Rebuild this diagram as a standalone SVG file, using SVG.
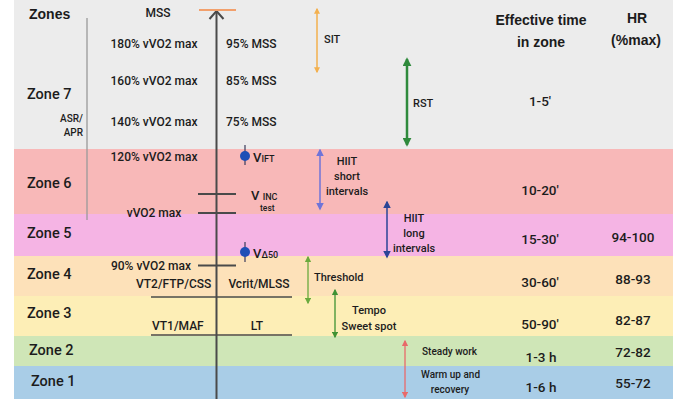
<svg xmlns="http://www.w3.org/2000/svg" width="690" height="410" viewBox="0 0 690 410">
<defs>
<style>
text{font-family:Roboto,"Liberation Sans",sans-serif;fill:#1c1c1c;font-weight:500}
.hd{font-family:"Liberation Sans",Roboto,sans-serif;font-weight:700;font-size:14px}
.zn{font-size:14.5px}
.v{font-size:12px}
.lab{font-size:11px}
.sm{font-size:10px}
.num{font-size:13.5px;text-anchor:middle}
.c{text-anchor:middle}
.tick{stroke:#4a4a4a;stroke-width:2}
.thin{stroke:#4a4a4a;stroke-width:1.5}
</style>
<marker id="mOr" viewBox="0 0 10 10" refX="8" refY="5" markerWidth="4" markerHeight="4" orient="auto-start-reverse"><path d="M0,0L10,5L0,10z" fill="#f3b04e"/></marker>
<marker id="mGr" viewBox="0 0 10 10" refX="8" refY="5" markerWidth="3.6" markerHeight="3.6" orient="auto-start-reverse"><path d="M0,0L10,5L0,10z" fill="#2f8a3c"/></marker>
<marker id="mBl" viewBox="0 0 10 10" refX="8" refY="5" markerWidth="5" markerHeight="5" orient="auto-start-reverse"><path d="M0,0L10,5L0,10z" fill="#6f74d8"/></marker>
<marker id="mDb" viewBox="0 0 10 10" refX="8" refY="5" markerWidth="5" markerHeight="5" orient="auto-start-reverse"><path d="M0,0L10,5L0,10z" fill="#2b4596"/></marker>
<marker id="mLg" viewBox="0 0 10 10" refX="8" refY="5" markerWidth="5" markerHeight="5" orient="auto-start-reverse"><path d="M0,0L10,5L0,10z" fill="#6aaa3e"/></marker>
<marker id="mTg" viewBox="0 0 10 10" refX="8" refY="5" markerWidth="5" markerHeight="5" orient="auto-start-reverse"><path d="M0,0L10,5L0,10z" fill="#3f9234"/></marker>
<marker id="mRd" viewBox="0 0 10 10" refX="8" refY="5" markerWidth="5" markerHeight="5" orient="auto-start-reverse"><path d="M0,0L10,5L0,10z" fill="#e86a6a"/></marker>
</defs>
<rect width="690" height="410" fill="#ffffff"/>
<g id="bands">
<rect x="14" y="0" width="659" height="149" fill="#ececec"/>
<rect x="14" y="149" width="659" height="65" fill="#f8b8b8"/>
<rect x="14" y="214" width="659" height="42" fill="#f5b4e4"/>
<rect x="14" y="256" width="659" height="40" fill="#fde1b9"/>
<rect x="14" y="296" width="659" height="40" fill="#fdeeb6"/>
<rect x="14" y="336" width="659" height="30" fill="#cfe6b7"/>
<rect x="14" y="366" width="659" height="33" fill="#a9cde7"/>
</g>
<g id="headers">
<text class="hd" x="29" y="19">Zones</text>
<text class="hd c" x="541" y="25">Effective time</text>
<text class="hd c" x="541" y="47">in zone</text>
<text class="hd c" x="637" y="23">HR</text>
<text class="hd c" x="636" y="45">(%max)</text>
</g>
<g id="zone7">
<text class="zn" x="27" y="99">Zone 7</text>
<text class="sm" x="83" y="122" text-anchor="end">ASR/</text>
<text class="sm" x="83" y="136" text-anchor="end">APR</text>
<text class="v c" x="158" y="17" font-size="11">MSS</text>
<text class="v c" x="154" y="48">180% vVO2 max</text>
<text class="v c" x="154" y="85">160% vVO2 max</text>
<text class="v c" x="154" y="126">140% vVO2 max</text>
<text class="v" x="226" y="48">95% MSS</text>
<text class="v" x="226" y="85">85% MSS</text>
<text class="v" x="226" y="126">75% MSS</text>
<text class="num" x="540" y="106">1-5'</text>
</g>
<g id="zone6">
<text class="zn" x="27" y="188">Zone 6</text>
<text class="v c" x="154" y="161">120% vVO2 max</text>
<text class="v c" x="154" y="217">vVO2 max</text>
<text class="num" x="540" y="195">10-20'</text>
</g>
<g id="zone5">
<text class="zn" x="27" y="238">Zone 5</text>
<text class="num" x="540" y="244">15-30'</text>
<text class="num" x="633" y="242">94-100</text>
</g>
<g id="zone4">
<text class="zn" x="27" y="279">Zone 4</text>
<text class="v c" x="151" y="270">90% vVO2 max</text>
<text class="v" x="136" y="288">VT2/FTP/CSS</text>
<text class="v c" x="259" y="288">Vcrit/MLSS</text>
<text class="num" x="540" y="287">30-60'</text>
<text class="num" x="633" y="284">88-93</text>
</g>
<g id="zone3">
<text class="zn" x="27" y="318">Zone 3</text>
<text class="v" x="152" y="330">VT1/MAF</text>
<text class="v c" x="257" y="330">LT</text>
<text class="num" x="540" y="329">50-90'</text>
<text class="num" x="633" y="325">82-87</text>
</g>
<g id="zone2">
<text class="zn" x="29" y="355">Zone 2</text>
<text class="num" x="541" y="362">1-3 h</text>
<text class="num" x="633" y="357">72-82</text>
</g>
<g id="zone1">
<text class="zn" x="31" y="386">Zone 1</text>
<text class="num" x="541" y="392">1-6 h</text>
<text class="num" x="633" y="388">55-72</text>
</g>
<g id="velocities">
<line x1="245" y1="145" x2="245" y2="165" stroke="#3a3a5a" stroke-width="1.2"/>
<circle cx="245" cy="156" r="5" fill="#1f4fb6"/>
<text x="253" y="162" font-size="13" font-weight="700">V<tspan font-size="9" dy="0">IFT</tspan></text>
<text x="251" y="200" font-size="13" font-weight="700">V <tspan font-size="9">INC</tspan></text>
<text x="260" y="211" font-size="8.5" font-weight="700">test</text>
<line x1="245" y1="242" x2="245" y2="262" stroke="#3a3a5a" stroke-width="1.2"/>
<circle cx="245" cy="252" r="5" fill="#1f4fb6"/>
<text x="253" y="258" font-size="13" font-weight="700">V<tspan font-size="9">Δ50</tspan></text>
</g>
<g id="connectors">
<line x1="87" y1="18" x2="87" y2="220" stroke="#9a9a9a" stroke-width="1.3"/>
<line x1="216.5" y1="11" x2="216.5" y2="399" stroke="#4a4a4a" stroke-width="2"/>
<polyline points="209.5,19 216.5,11 223.5,19" fill="none" stroke="#4a4a4a" stroke-width="2"/>
<line x1="199" y1="10" x2="236" y2="10" stroke="#f2a06c" stroke-width="2.2"/>
<line class="tick" x1="198" y1="194" x2="236" y2="194"/>
<line class="tick" x1="198" y1="213" x2="236" y2="213"/>
<line class="tick" x1="198" y1="265.5" x2="236" y2="265.5"/>
<line class="thin" x1="151" y1="297" x2="292" y2="297"/>
<line class="thin" x1="151" y1="335" x2="292" y2="335"/>
<line x1="317" y1="9" x2="317" y2="72" stroke="#f3b04e" stroke-width="1.5" marker-start="url(#mOr)" marker-end="url(#mOr)"/>
<line x1="407" y1="59" x2="407" y2="145" stroke="#2f8a3c" stroke-width="2.5" marker-start="url(#mGr)" marker-end="url(#mGr)"/>
<line x1="320" y1="150" x2="320" y2="209" stroke="#6f74d8" stroke-width="1.5" marker-start="url(#mBl)" marker-end="url(#mBl)"/>
<line x1="387" y1="202" x2="387" y2="257" stroke="#2b4596" stroke-width="1.5" marker-start="url(#mDb)" marker-end="url(#mDb)"/>
<line x1="308" y1="257" x2="308" y2="303" stroke="#6aaa3e" stroke-width="1.3" marker-start="url(#mLg)" marker-end="url(#mLg)"/>
<line x1="335" y1="290" x2="335" y2="337" stroke="#3f9234" stroke-width="1.3" marker-start="url(#mTg)" marker-end="url(#mTg)"/>
<line x1="405" y1="341" x2="405" y2="397" stroke="#e86a6a" stroke-width="1.3" marker-start="url(#mRd)" marker-end="url(#mRd)"/>
</g>
<g id="arrow-labels">
<text class="lab" x="324" y="43" font-size="12">SIT</text>
<text class="lab" x="413" y="107" font-size="12">RST</text>
<text class="lab c" x="347" y="165">HIIT</text>
<text class="lab c" x="347" y="180">short</text>
<text class="lab c" x="347" y="195">intervals</text>
<text class="lab c" x="414" y="222">HIIT</text>
<text class="lab c" x="414" y="237">long</text>
<text class="lab c" x="414" y="252">intervals</text>
<text class="lab" x="314" y="281">Threshold</text>
<text class="lab c" x="369" y="314">Tempo</text>
<text class="lab c" x="369" y="330">Sweet spot</text>
<text class="sm" x="422" y="355" font-weight="700">Steady work</text>
<text class="sm" x="421" y="378" font-weight="700">Warm up and</text>
<text class="sm c" x="450" y="393" font-weight="700">recovery</text>
</g>
</svg>
